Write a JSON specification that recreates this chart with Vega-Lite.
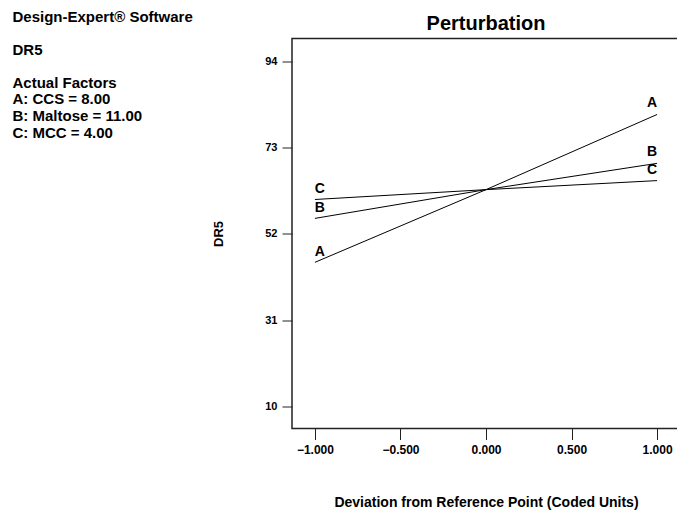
{
  "$schema": "https://vega.github.io/schema/vega-lite/v6.json",
  "background": "white",
  "padding": {"left": 12, "top": 9.5, "right": 0, "bottom": 0},
  "bounds": "flush",
  "spacing": 279,
  "config": {
    "font": "Liberation Sans",
    "view": {"stroke": null},
    "axis": {
      "grid": false,
      "domain": false,
      "tickColor": "#222",
      "labelColor": "black",
      "titleColor": "black",
      "labelFont": "Liberation Sans",
      "titleFont": "Liberation Sans",
      "labelFontWeight": "bold",
      "titleFontWeight": "bold"
    }
  },
  "hconcat": [
    {
      "width": 1,
      "height": 116,
      "data": {
        "values": [
          {"row": 0, "text": "Design-Expert® Software"},
          {"row": 2, "text": "DR5"},
          {"row": 4, "text": "Actual Factors"},
          {"row": 5, "text": "A: CCS = 8.00"},
          {"row": 6, "text": "B: Maltose = 11.00"},
          {"row": 7, "text": "C: MCC = 4.00"}
        ]
      },
      "mark": {
        "type": "text",
        "align": "left",
        "baseline": "middle",
        "fontSize": 15,
        "fontWeight": "bold",
        "color": "black",
        "dy": -22
      },
      "encoding": {
        "y": {"field": "row", "type": "quantitative", "scale": {"domain": [0, 7], "reverse": true, "nice": false}, "axis": null},
        "text": {"field": "text", "type": "nominal"}
      }
    },
    {
      "width": 388,
      "height": 390,
      "view": {"stroke": "#222", "strokeWidth": 1.5},
      "title": {"text": "Perturbation", "fontSize": 20, "fontWeight": "bold", "color": "black", "offset": 5, "anchor": "middle"},
      "data": {
        "values": [
          {"factor": "A", "dev": -1, "dr5": 45.1},
          {"factor": "A", "dev": 0, "dr5": 62.8},
          {"factor": "A", "dev": 1, "dr5": 81.1},
          {"factor": "B", "dev": -1, "dr5": 55.8},
          {"factor": "B", "dev": 0, "dr5": 62.8},
          {"factor": "B", "dev": 1, "dr5": 69.2},
          {"factor": "C", "dev": -1, "dr5": 60.4},
          {"factor": "C", "dev": 0, "dr5": 62.8},
          {"factor": "C", "dev": 1, "dr5": 65.0}
        ]
      },
      "encoding": {
        "x": {
          "field": "dev",
          "type": "quantitative",
          "scale": {"domain": [-1.134, 1.134], "nice": false, "zero": false},
          "axis": {
            "title": "Deviation from Reference Point (Coded Units)",
            "titleFontSize": 14,
            "titlePadding": 40,
            "values": [-1, -0.5, 0, 0.5, 1],
            "format": ".3f",
            "labelFontSize": 12,
            "tickSize": 11,
            "labelPadding": 5
          }
        },
        "y": {
          "field": "dr5",
          "type": "quantitative",
          "scale": {"domain": [4.64, 99.6], "nice": false, "zero": false},
          "axis": {
            "title": "DR5",
            "titleFontSize": 13,
            "titlePadding": 39,
            "values": [10, 31, 52, 73, 94],
            "labelFontSize": 11,
            "tickSize": 10,
            "labelPadding": 5
          }
        }
      },
      "layer": [
        {
          "mark": {"type": "line", "color": "black", "strokeWidth": 1},
          "encoding": {"detail": {"field": "factor", "type": "nominal"}}
        },
        {
          "transform": [{"filter": "datum.dev == -1"}],
          "mark": {"type": "text", "fontSize": 14, "fontWeight": "bold", "color": "black", "dx": 5, "dy": -10, "baseline": "middle"},
          "encoding": {"text": {"field": "factor", "type": "nominal"}}
        },
        {
          "transform": [{"filter": "datum.dev == 1"}],
          "mark": {"type": "text", "fontSize": 14, "fontWeight": "bold", "color": "black", "dx": -5, "dy": -11, "baseline": "middle"},
          "encoding": {"text": {"field": "factor", "type": "nominal"}}
        }
      ]
    }
  ]
}
